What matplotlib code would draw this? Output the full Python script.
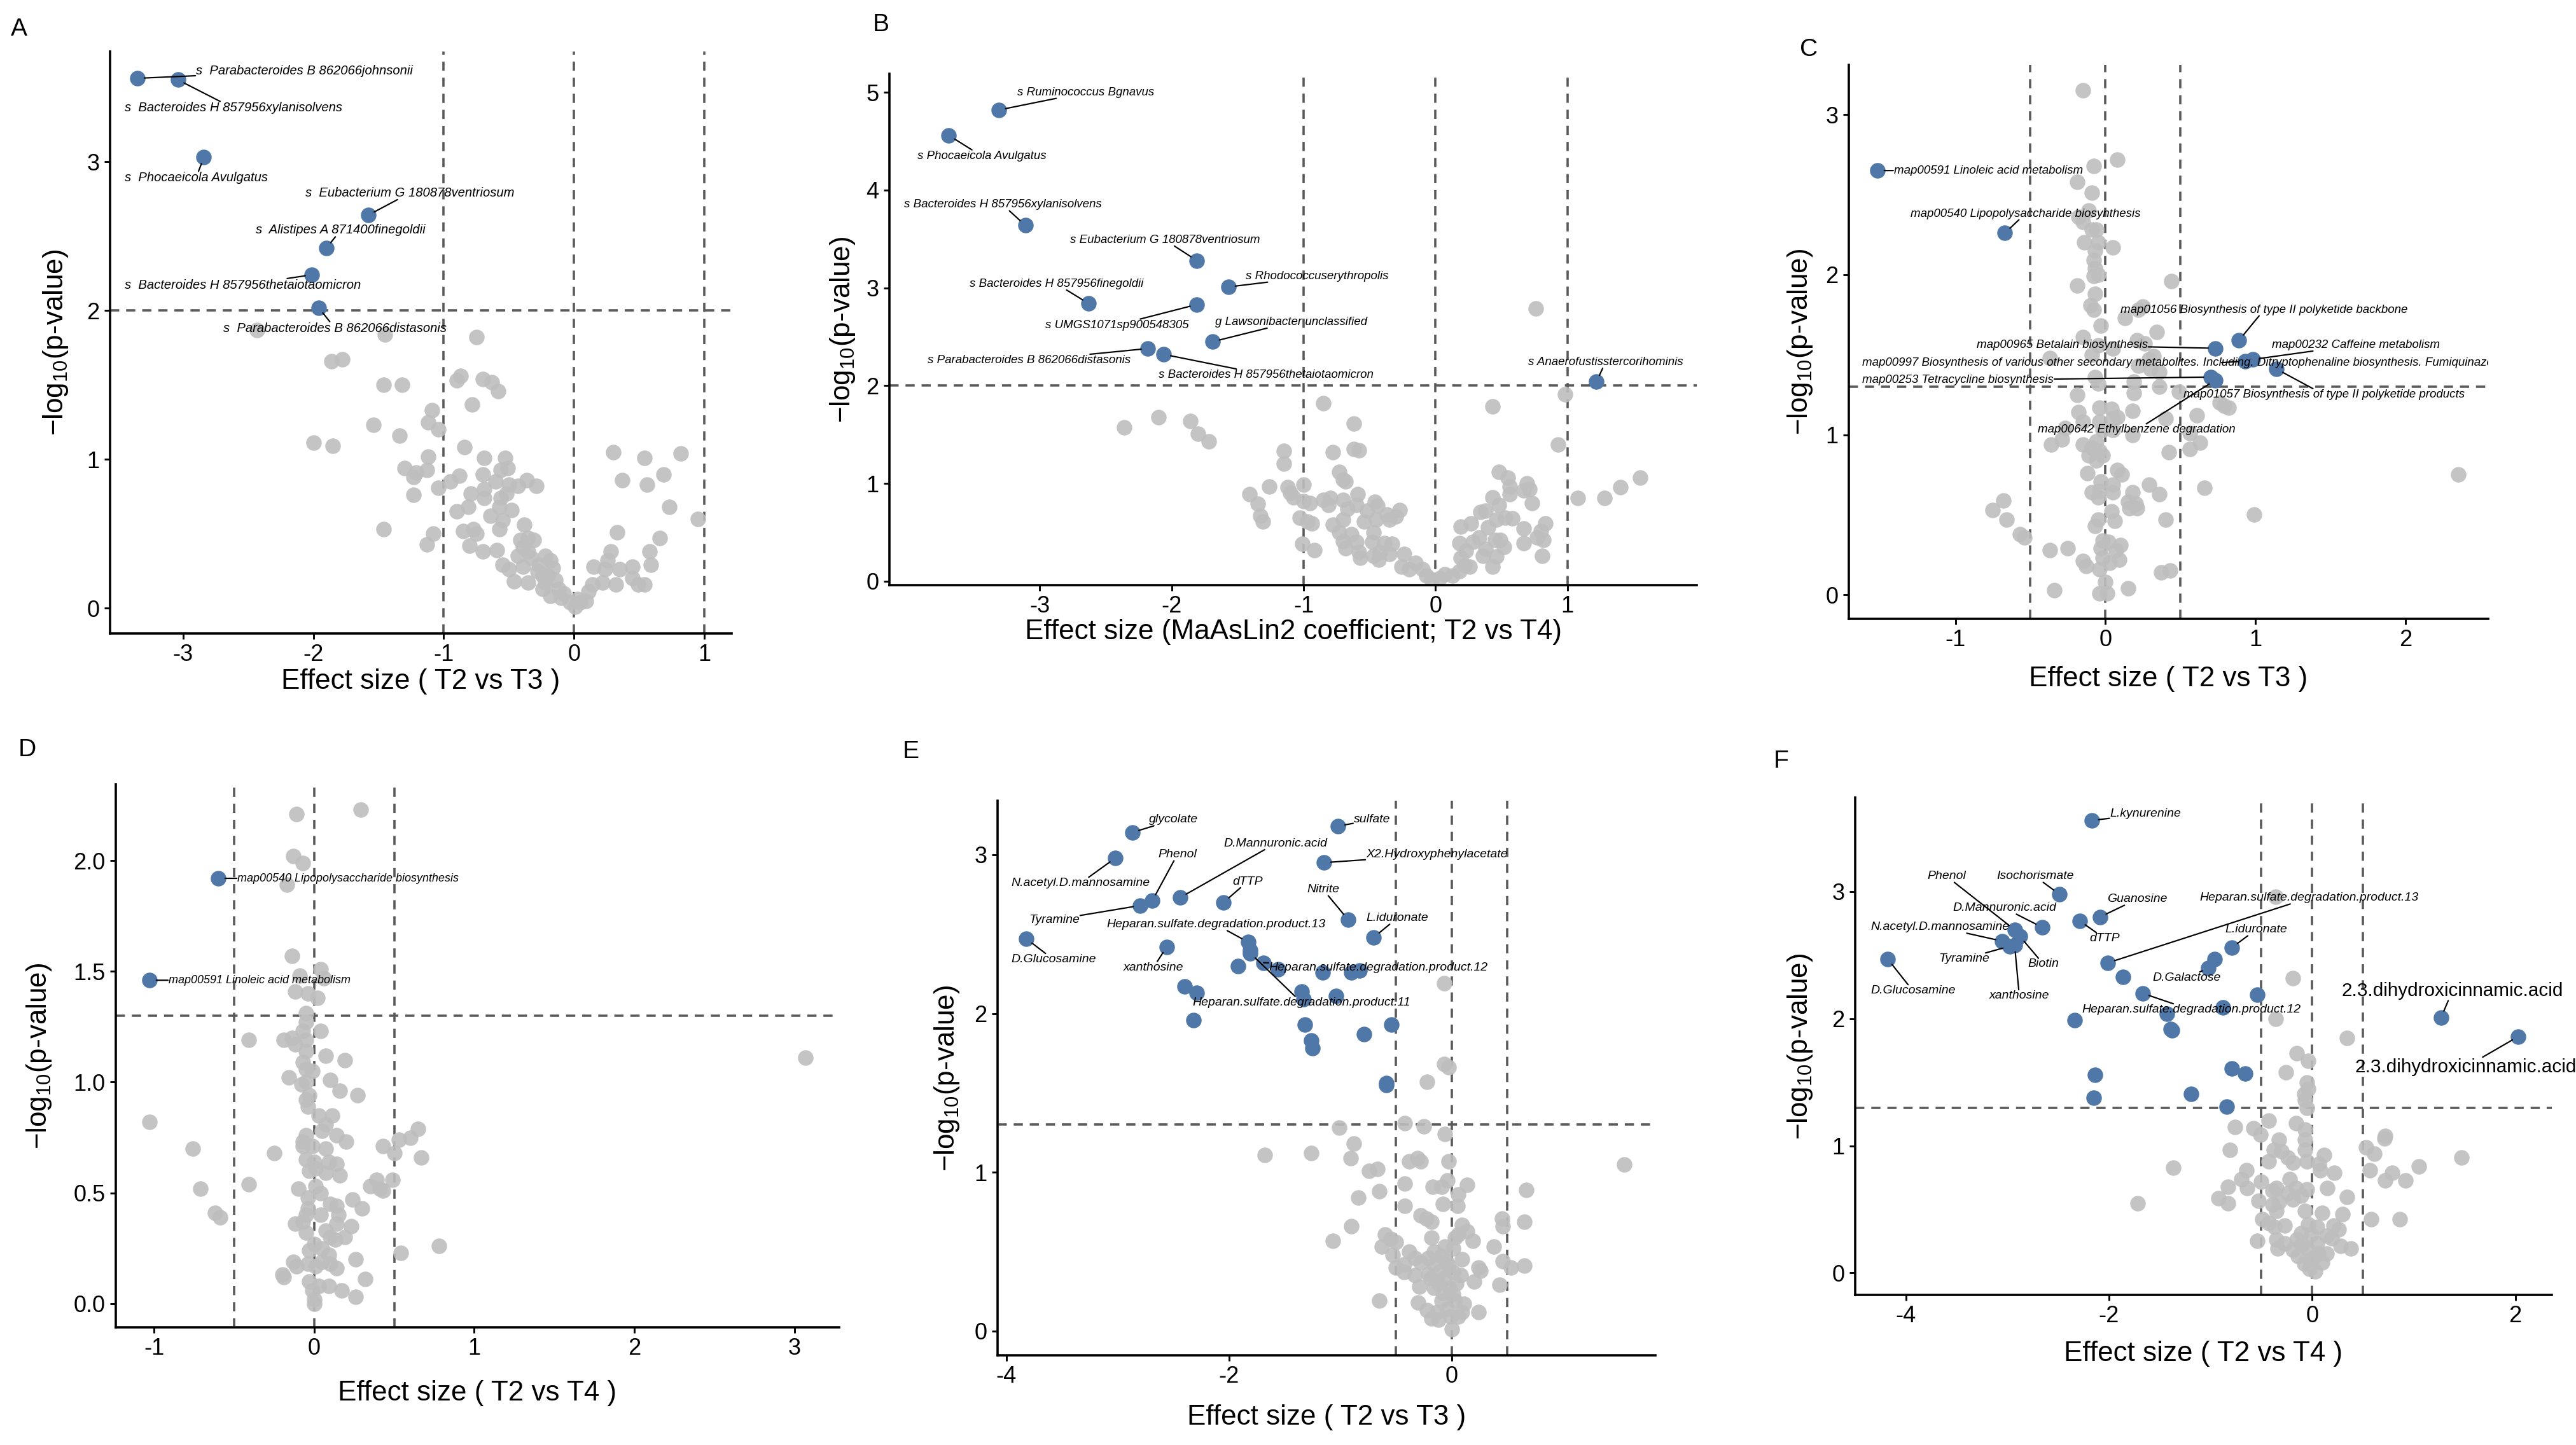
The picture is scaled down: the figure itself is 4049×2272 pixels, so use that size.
import numpy as np
import matplotlib
matplotlib.use("Agg")
import matplotlib.pyplot as plt

plt.rcParams['font.family'] = ['Liberation Sans', 'DejaVu Sans']
plt.rcParams['mathtext.default'] = 'regular'
plt.rcParams['axes.unicode_minus'] = False

GRAY = '#BEBEBE'
BLUE = '#4F78A8'
DASH = '#5A5A5A'

# ---------------- panel A: species, T2 vs T3 ----------------
a_gray = [(-2.43,1.87),(-1.45,1.84),(-0.75,1.82),(-1.86,1.66),(-1.78,1.67),(-1.46,1.50),(-1.32,1.50),(-0.90,1.53),
 (-0.87,1.56),(-0.70,1.54),(-0.63,1.52),(-0.58,1.46),(-0.78,1.37),(-1.09,1.33),(-1.54,1.23),(-1.12,1.25),(-1.34,1.16),
 (-1.04,1.20),(-2.00,1.11),(-1.85,1.09),(-0.84,1.08),(-1.12,1.02),(-0.69,1.01),(-0.53,1.01),(-1.30,0.94),(-1.21,0.91),
 (-1.13,0.93),(-1.23,0.88),(-0.88,0.89),(-0.70,0.90),(-0.95,0.85),(-1.04,0.81),(-0.56,0.93),(-0.51,0.94),(-0.60,0.85),
 (-0.50,0.83),(-0.43,0.82),(-0.36,0.86),(-0.29,0.82),(-0.69,0.80),(-0.79,0.77),(-1.23,0.76),(-0.69,0.74),(-0.56,0.74),
 (-0.52,0.77),(-0.81,0.68),(-0.90,0.65),(-0.57,0.68),(-0.48,0.66),(-0.64,0.62),(-0.55,0.59),(-1.46,0.53),(-1.08,0.50),
 (-1.13,0.43),(-0.85,0.52),(-0.77,0.53),(-0.75,0.50),(-0.80,0.42),(-0.70,0.38),(-0.59,0.39),(-0.57,0.53),(-0.38,0.56),
 (-0.41,0.46),(-0.35,0.47),(-0.31,0.46),(-0.39,0.41),(-0.35,0.38),(-0.43,0.35),(-0.33,0.34),(-0.22,0.35),(-0.18,0.32),
 (-0.55,0.29),(-0.50,0.26),(-0.39,0.28),(-0.27,0.29),(-0.16,0.27),(-0.46,0.18),(-0.35,0.17),(-0.24,0.22),(-0.22,0.17),
 (-0.14,0.19),(-0.24,0.13),(-0.18,0.08),(-0.12,0.13),(-0.10,0.07),(-0.03,0.04),(0.01,0.01),(0.05,0.04),(0.09,0.05),
 (0.11,0.11),(0.14,0.16),(0.15,0.28),(0.22,0.17),(0.24,0.26),(0.26,0.32),(0.28,0.38),(0.32,0.16),(0.35,0.26),(0.33,0.51),
 (0.45,0.28),(0.45,0.20),(0.49,0.16),(0.54,0.16),(0.58,0.38),(0.59,0.29),(0.66,0.47),(0.73,0.68),(0.95,0.60),(0.37,0.86),
 (0.56,0.83),(0.69,0.90),(0.30,1.05),(0.54,1.01),(0.82,1.04),(-0.28,0.25),(-0.20,0.22),(-0.08,0.10),(0.03,0.06)]
a_sig_x = [-3.35, -3.04, -2.84, -1.58, -1.90, -2.01, -1.96]
a_sig_y = [3.56, 3.55, 3.03, 2.64, 2.42, 2.24, 2.02]
a_names = ['s  Parabacteroides B 862066johnsonii', 's  Bacteroides H 857956xylanisolvens', 's  Phocaeicola Avulgatus',
           's  Eubacterium G 180878ventriosum', 's  Alistipes A 871400finegoldii',
           's  Bacteroides H 857956thetaiotaomicron', 's  Parabacteroides B 862066distasonis']
a_lab_pos = [(-2.90,3.61),(-3.45,3.36),(-3.45,2.89),(-2.06,2.79),(-2.44,2.54),(-3.45,2.17),(-2.69,1.88)]

# ---------------- panel B: species, T2 vs T4 ----------------
b_gray = [(-2.36,1.57),(-2.10,1.68),(-1.86,1.64),(-1.80,1.51),(-1.72,1.43),(-0.85,1.82),(-0.62,1.61),(-0.78,1.32),
 (-0.62,1.35),(-0.58,1.34),(-1.15,1.33),(-1.15,1.20),(-0.73,1.12),(-0.70,1.04),(-0.68,1.02),(-1.26,0.97),(-1.12,0.96),
 (-1.00,0.99),(-1.41,0.89),(-1.10,0.90),(-1.08,0.86),(-1.35,0.79),(-1.00,0.82),(-0.95,0.80),(-0.85,0.83),(-0.80,0.85),
 (-0.81,0.78),(-0.70,0.83),(-0.59,0.89),(-0.67,0.74),(-0.60,0.78),(-0.46,0.81),(-0.52,0.72),(-0.44,0.77),(-0.37,0.68),
 (-0.27,0.73),(-0.30,0.66),(-1.33,0.67),(-1.31,0.61),(-1.03,0.65),(-0.97,0.61),(-0.94,0.59),(-0.78,0.58),(-0.70,0.63),
 (-0.73,0.50),(-0.54,0.61),(-0.45,0.63),(-0.35,0.63),(-0.47,0.50),(-0.70,0.41),(-0.64,0.48),(-0.60,0.40),(-0.68,0.34),
 (-0.58,0.30),(-0.48,0.40),(-0.39,0.39),(-0.33,0.38),(-0.42,0.30),(-0.47,0.26),(-0.43,0.22),(-0.35,0.28),(-0.24,0.28),
 (-0.26,0.15),(-0.15,0.19),(-0.20,0.12),(-0.10,0.12),(-0.07,0.06),(-0.03,0.02),(0.03,0.03),(0.07,0.07),(0.13,0.06),
 (0.18,0.10),(0.19,0.24),(0.22,0.16),(0.26,0.15),(0.23,0.31),(0.28,0.40),(0.33,0.45),(0.38,0.33),(0.36,0.26),(0.46,0.25),
 (0.43,0.15),(0.18,0.39),(0.19,0.56),(0.27,0.59),(0.34,0.71),(0.38,0.72),(0.40,0.55),(0.45,0.42),(0.46,0.63),(0.49,0.42),
 (0.52,0.35),(0.53,0.65),(0.58,0.64),(0.43,0.86),(0.48,0.78),(0.48,1.12),(0.55,1.06),(0.56,0.97),(0.56,0.89),(0.67,0.93),
 (0.69,1.00),(0.71,0.94),(0.73,0.80),(0.67,0.54),(0.67,0.39),(0.77,0.45),(0.80,0.51),(0.83,0.59),(0.82,0.42),(0.81,0.26),
 (0.43,1.79),(0.76,2.79),(0.98,1.91),(0.93,1.40),(1.08,0.85),(1.28,0.85),(1.40,0.96),(1.55,1.06),(-1.01,0.38),(-0.92,0.32),
 (-0.57,0.24)]
b_sig_x = [-3.31, -3.69, -3.11, -1.81, -1.57, -2.63, -1.81, -1.69, -2.18, -2.06, 1.22]
b_sig_y = [4.82, 4.56, 3.64, 3.28, 3.01, 2.84, 2.83, 2.45, 2.38, 2.32, 2.04]
b_names = ['s Ruminococcus Bgnavus', 's Phocaeicola Avulgatus', 's Bacteroides H 857956xylanisolvens',
           's Eubacterium G 180878ventriosum', 's Rhodococcuserythropolis', 's Bacteroides H 857956finegoldii',
           's UMGS1071sp900548305', 'g Lawsonibacter unclassified', 's Parabacteroides B 862066distasonis',
           's Bacteroides H 857956thetaiotaomicron', 's Anaerofustisstercorihominis']
b_lab_pos = [(-3.17,5.00),(-3.93,4.35),(-4.03,3.85),(-2.77,3.49),(-1.44,3.12),(-3.53,3.04),(-2.96,2.62),
             (-1.67,2.65),(-3.85,2.26),(-2.10,2.11),(0.70,2.24)]

# ---------------- panel C: pathways, T2 vs T3 ----------------
c_gray = [(-0.15,3.15),(0.08,2.72),(-0.08,2.68),(-0.19,2.58),(-0.09,2.51),(-0.11,2.40),(-0.18,2.36),(-0.15,2.33),
 (-0.09,2.28),(-0.06,2.28),(-0.14,2.20),(-0.05,2.20),(0.05,2.17),(-0.07,2.15),(-0.08,2.09),(-0.07,2.04),(-0.08,1.99),
 (-0.05,2.00),(-0.19,1.93),(0.44,1.96),(-0.07,1.88),(-0.10,1.81),(-0.08,1.78),(0.25,1.80),(0.22,1.78),(0.13,1.73),
 (-0.03,1.68),(0.34,1.64),(-0.15,1.61),(0.21,1.59),(0.26,1.57),(-0.05,1.56),(0.05,1.54),(-0.37,1.48),(-0.09,1.50),
 (0.32,1.49),(0.29,1.47),(0.22,1.43),(0.30,1.41),(0.36,1.39),(-0.07,1.36),(0.19,1.33),(-0.05,1.32),(0.36,1.30),
 (0.49,1.27),(0.19,1.26),(-0.19,1.25),(0.76,1.20),(0.79,1.18),(0.82,1.17),(-0.04,1.17),(0.04,1.16),(0.18,1.15),
 (-0.18,1.14),(0.61,1.12),(0.40,1.10),(0.08,1.11),(0.05,1.10),(-0.04,1.08),(-0.15,1.08),(-0.27,1.04),(-0.02,1.03),
 (0.05,1.03),(0.18,1.00),(0.56,1.01),(-0.29,0.97),(-0.36,0.94),(-0.15,0.94),(-0.06,0.96),(0.63,0.95),(-0.09,0.92),
 (-0.04,0.90),(0.56,0.91),(0.42,0.89),(-0.11,0.87),(-0.06,0.84),(-0.02,0.87),(0.08,0.78),(0.11,0.75),(-0.12,0.76),
 (-0.03,0.71),(0.05,0.69),(0.29,0.69),(0.66,0.67),(-0.09,0.64),(-0.04,0.65),(0.05,0.64),(0.18,0.64),(0.36,0.63),
 (-0.05,0.61),(0.15,0.58),(0.20,0.57),(0.16,0.54),(0.21,0.54),(-0.68,0.59),(-0.75,0.53),(-0.66,0.47),(0.99,0.50),
 (2.35,0.75),(0.40,0.47),(0.04,0.52),(-0.05,0.47),(0.06,0.46),(-0.07,0.43),(-0.57,0.38),(-0.54,0.36),(-0.02,0.34),
 (0.02,0.33),(-0.37,0.28),(-0.25,0.29),(-0.03,0.29),(0.10,0.31),(0.07,0.28),(-0.02,0.23),(0.09,0.22),(-0.15,0.21),
 (-0.13,0.18),(0.03,0.20),(-0.04,0.16),(0.37,0.14),(0.43,0.15),(0.00,0.08),(-0.34,0.03),(0.15,0.04),(-0.04,0.01),
 (0.01,0.01)]
c_sig_x = [-1.52, -0.67, 0.89, 0.73, 0.98, 0.70, 1.14, 0.73, 0.93]
c_sig_y = [2.65, 2.26, 1.59, 1.54, 1.47, 1.36, 1.41, 1.34, 1.46]
c_names = ['map00591 Linoleic acid metabolism', 'map00540 Lipopolysaccharide biosynthesis',
           'map01056 Biosynthesis of type II polyketide backbone', 'map00965 Betalain biosynthesis',
           'map00232 Caffeine metabolism', 'map00253 Tetracycline biosynthesis',
           'map01057 Biosynthesis of type II polyketide products', 'map00642 Ethylbenzene degradation',
           'map00997 Biosynthesis of various other secondary metabolites. Including. Ditryptophenaline biosynthesis. Fumiquinazoline biosynthesis']
c_lab_pos = [(-1.41,2.65),(-1.30,2.38),(0.10,1.78),(-0.86,1.56),(1.11,1.56),(-1.62,1.34),(0.52,1.25),(-0.45,1.03),(-1.62,1.45)]

# ---------------- panel D: pathways, T2 vs T4 ----------------
d_gray = [(0.29,2.23),(-0.11,2.21),(-0.13,2.02),(-0.07,1.99),(-0.17,1.89),(-0.14,1.57),(0.04,1.51),(-0.09,1.48),
 (0.06,1.47),(-0.12,1.41),(-0.04,1.40),(0.02,1.38),(-0.05,1.31),(-0.05,1.27),(0.04,1.23),(-0.07,1.23),(-0.41,1.19),
 (-0.19,1.19),(-0.14,1.20),(-0.12,1.17),(-0.05,1.19),(-0.05,1.14),(0.07,1.12),(0.19,1.10),(-0.07,1.09),(-0.05,1.06),
 (-0.01,1.05),(-0.16,1.02),(0.10,1.01),(-0.08,0.99),(-0.05,1.00),(0.16,0.96),(0.27,0.94),(-1.03,0.82),(-0.05,0.92),
 (-0.03,0.94),(-0.04,0.89),(0.03,0.85),(0.11,0.85),(0.07,0.81),(0.05,0.78),(0.14,0.76),(0.65,0.79),(0.60,0.75),
 (0.53,0.74),(-0.05,0.76),(-0.07,0.73),(0.20,0.73),(-0.76,0.70),(-0.25,0.68),(-0.07,0.71),(-0.01,0.71),(0.07,0.70),
 (0.43,0.71),(0.50,0.68),(0.67,0.66),(-0.05,0.65),(0.00,0.64),(0.09,0.64),(0.14,0.63),(0.01,0.61),(0.07,0.59),
 (-0.03,0.60),(0.16,0.58),(0.39,0.56),(0.49,0.56),(-0.41,0.54),(0.35,0.53),(0.41,0.52),(0.43,0.51),(-0.71,0.52),
 (-0.10,0.52),(0.01,0.53),(0.04,0.50),(-0.04,0.48),(0.10,0.45),(0.14,0.44),(0.24,0.47),(0.30,0.43),(-0.04,0.43),
 (-0.62,0.41),(-0.59,0.39),(-0.05,0.40),(0.04,0.40),(0.15,0.40),(-0.12,0.36),(-0.07,0.37),(0.14,0.36),(0.23,0.35),
 (0.07,0.33),(-0.05,0.32),(0.10,0.30),(0.19,0.30),(0.13,0.29),(0.00,0.27),(0.05,0.25),(-0.03,0.24),(0.09,0.22),
 (0.54,0.23),(0.78,0.26),(0.26,0.20),(-0.13,0.19),(-0.04,0.18),(0.05,0.19),(0.10,0.18),(-0.11,0.17),(0.01,0.17),
 (0.14,0.16),(-0.20,0.13),(-0.19,0.12),(0.32,0.11),(-0.03,0.10),(0.03,0.08),(0.09,0.08),(-0.01,0.06),(0.17,0.06),
 (0.26,0.03),(0.00,0.02),(0.00,0.00),(3.07,1.11)]
d_sig_x = [-0.60, -1.03]
d_sig_y = [1.92, 1.46]
d_names = ['map00540 Lipopolysaccharide biosynthesis', 'map00591 Linoleic acid metabolism']
d_lab_pos = [(-0.48,1.92),(-0.91,1.46)]

# ---------------- panel E: metabolites, T2 vs T3 ----------------
e_gray = [(-0.07,2.19),(-0.07,1.68),(-0.03,1.66),(-0.22,1.57),(-1.01,1.28),(-0.42,1.31),(-0.25,1.29),(-0.06,1.24),
 (-0.88,1.18),(-1.68,1.11),(-1.26,1.12),(-0.91,1.09),(-0.38,1.07),(-0.31,1.09),(-0.28,1.07),(-0.03,1.07),(1.55,1.05),
 (-0.74,1.01),(-0.67,1.02),(-0.42,0.93),(-0.17,0.91),(-0.09,0.91),(-0.04,0.95),(0.14,0.92),(0.67,0.89),(-0.65,0.88),
 (-0.84,0.84),(0.06,0.86),(-0.42,0.79),(-0.08,0.80),(0.05,0.79),(-0.28,0.73),(-0.23,0.71),(-0.18,0.69),(0.45,0.71),
 (0.46,0.66),(0.65,0.69),(0.09,0.67),(0.14,0.63),(-0.90,0.66),(-0.60,0.61),(-0.18,0.59),(0.03,0.59),(0.06,0.61),
 (0.19,0.57),(-1.07,0.57),(-0.55,0.58),(-0.50,0.56),(-0.63,0.53),(0.38,0.53),(-0.38,0.50),(-0.16,0.50),(-0.06,0.53),
 (0.01,0.52),(-0.53,0.48),(-0.33,0.46),(-0.21,0.46),(-0.09,0.47),(0.09,0.45),(0.46,0.44),(-0.28,0.43),(-0.50,0.40),
 (-0.43,0.42),(-0.16,0.42),(-0.03,0.41),(0.24,0.40),(0.26,0.38),(0.53,0.40),(0.65,0.41),(-0.43,0.37),(-0.21,0.36),
 (-0.11,0.37),(0.01,0.37),(-0.33,0.35),(-0.19,0.33),(-0.07,0.33),(0.04,0.30),(0.20,0.31),(0.43,0.29),(-0.29,0.28),
 (-0.16,0.27),(-0.02,0.27),(-0.08,0.24),(0.01,0.23),(-0.65,0.19),(-0.30,0.18),(-0.09,0.19),(0.03,0.19),(0.11,0.17),
 (-0.22,0.13),(-0.13,0.12),(-0.04,0.14),(0.09,0.12),(0.24,0.12),(-0.18,0.08),(-0.12,0.07),(-0.01,0.09),(0.06,0.09),
 (0.00,0.01),(-0.12,0.30),(-0.05,0.44),(0.08,0.35)]
e_sig_x = [-2.87, -1.02, -3.02, -2.44, -2.69, -1.15, -2.05, -0.93, -2.80, -1.83, -0.70, -3.82, -2.56, -1.69, -1.81,
           -1.92, -1.56, -1.16, -0.90, -0.83, -2.40, -2.29, -1.35, -1.33, -1.04, -2.32, -1.32, -0.54, -0.79, -1.26,
           -1.25, -0.59, -0.59, -1.81]
e_sig_y = [3.14, 3.18, 2.98, 2.73, 2.71, 2.95, 2.70, 2.59, 2.68, 2.45, 2.48, 2.47, 2.42, 2.32, 2.38,
           2.30, 2.28, 2.26, 2.26, 2.27, 2.17, 2.13, 2.14, 2.09, 2.11, 1.96, 1.93, 1.93, 1.87, 1.83,
           1.78, 1.56, 1.55, 2.40]
e_names = ['glycolate', 'sulfate', 'N.acetyl.D.mannosamine', 'D.Mannuronic.acid', 'Phenol', 'X2.Hydroxyphenylacetate',
           'dTTP', 'Nitrite', 'Tyramine', 'Heparan.sulfate.degradation.product.13', 'L.iduronate', 'D.Glucosamine',
           'xanthosine', 'Heparan.sulfate.degradation.product.12', 'Heparan.sulfate.degradation.product.11']
e_lab_pos = [(-2.72,3.22),(-0.88,3.22),(-3.96,2.82),(-2.05,3.07),(-2.64,3.00),(-0.77,3.00),(-1.97,2.83),(-1.30,2.78),
             (-3.80,2.59),(-3.10,2.56),(-0.77,2.60),(-3.96,2.34),(-2.95,2.29),(-1.64,2.29),(-2.33,2.07)]

# ---------------- panel F: metabolites, T2 vs T4 ----------------
f_gray = [(-0.36,2.96),(-0.19,2.32),(-0.36,2.00),(0.34,1.85),(-0.15,1.73),(-0.04,1.67),(-0.26,1.58),(-0.05,1.50),
 (-0.04,1.45),(-0.08,1.41),(-0.07,1.36),(-0.05,1.30),(-0.43,1.20),(-0.16,1.18),(-0.76,1.15),(-0.58,1.14),(-0.51,1.09),
 (-0.07,1.13),(0.72,1.08),(0.71,1.06),(-0.33,1.05),(-0.07,1.05),(0.53,0.99),(0.61,0.94),(1.47,0.91),(-0.81,0.97),
 (-0.38,0.97),(-0.30,0.96),(-0.07,0.97),(-0.24,0.91),(0.12,0.93),(-0.43,0.88),(-0.19,0.87),(-0.05,0.88),(0.07,0.86),
 (-1.37,0.83),(1.05,0.84),(0.08,0.81),(-0.65,0.81),(0.22,0.79),(0.57,0.81),(0.79,0.79),(-0.70,0.74),(-0.22,0.74),
 (0.72,0.73),(0.92,0.73),(-0.50,0.72),(-0.83,0.68),(-0.64,0.67),(-0.39,0.65),(-0.16,0.67),(-0.05,0.66),(0.15,0.67),
 (-0.35,0.67),(-0.24,0.63),(-0.11,0.61),(-0.19,0.58),(-0.33,0.56),(-0.53,0.57),(0.34,0.60),(-0.92,0.59),(-0.83,0.55),
 (-1.72,0.55),(-0.39,0.54),(-0.35,0.49),(-0.07,0.49),(0.10,0.47),(0.30,0.46),(0.58,0.42),(0.86,0.42),(-0.49,0.42),
 (-0.43,0.39),(-0.27,0.37),(-0.37,0.36),(-0.04,0.38),(0.05,0.36),(0.21,0.37),(0.26,0.34),(-0.11,0.31),(-0.01,0.30),
 (0.14,0.29),(0.19,0.27),(-0.54,0.25),(-0.35,0.26),(-0.15,0.26),(-0.27,0.23),(0.05,0.23),(0.28,0.21),(0.38,0.19),
 (-0.34,0.19),(-0.19,0.18),(-0.05,0.19),(0.14,0.15),(-0.14,0.13),(0.02,0.12),(0.10,0.08),(-0.08,0.07),(-0.03,0.03),
 (0.03,0.01),(-0.10,0.22),(0.06,0.15),(-0.02,0.10)]
f_sig_x = [-2.17, -2.49, -2.93, -2.09, -2.66, -2.29, -2.01, -3.05, -0.79, -2.88, -2.98, -1.02, -4.18, -2.93, -1.67,
           1.27, 2.03, -0.96, -1.86, -0.54, -0.88, -1.43, -1.39, -1.38, -2.34, -2.14, -2.15, -0.79, -0.66, -1.19, -0.84]
f_sig_y = [3.56, 2.98, 2.70, 2.80, 2.72, 2.77, 2.44, 2.61, 2.56, 2.65, 2.57, 2.40, 2.47, 2.58, 2.20,
           2.01, 1.86, 2.47, 2.33, 2.19, 2.09, 2.04, 1.92, 1.91, 1.99, 1.56, 1.38, 1.61, 1.57, 1.41, 1.31]
f_names = ['L.kynurenine', 'Isochorismate', 'Phenol', 'Guanosine', 'D.Mannuronic.acid', 'dTTP',
           'Heparan.sulfate.degradation.product.13', 'N.acetyl.D.mannosamine', 'L.iduronate', 'Biotin', 'Tyramine',
           'D.Galactose', 'D.Glucosamine', 'xanthosine', 'Heparan.sulfate.degradation.product.12',
           '2.3.dihydroxicinnamic.acid', '2.3.dihydroxicinnamic.acid']
f_lab_pos = [(-1.99,3.61),(-3.11,3.12),(-3.79,3.12),(-2.02,2.94),(-3.54,2.87),(-2.19,2.63),(-1.11,2.95),(-4.35,2.72),
             (-0.86,2.70),(-2.80,2.43),(-3.68,2.47),(-1.57,2.32),(-4.35,2.22),(-3.18,2.18),(-2.27,2.07),
             (0.29,2.22),(0.42,1.62)]

W, H = 4049, 2272
fig = plt.figure(figsize=(W / 260, H / 260), dpi=260)


def panel(box, gray, sx, sy, names, lab_pos, vlines, hline, xlim, ylim, xticks, yticks, xlabel, letter, letter_xy,
          xlab_off, ylab_off, fs=5.6, big=(), clip=()):
    l, r, t, b = box
    ax = fig.add_axes([l / W, 1 - b / H, (r - l) / W, (b - t) / H])
    gx = [p[0] for p in gray]
    gy = [p[1] for p in gray]
    ax.scatter(gx, gy, s=46, color=GRAY, alpha=0.9, linewidths=0, zorder=2)
    ax.scatter(sx, sy, s=46, color=BLUE, linewidths=0, zorder=3)
    for v in vlines:
        ax.axvline(v, color=DASH, lw=1.0, ls=(0, (4, 3)), zorder=1)
    ax.axhline(hline, color=DASH, lw=1.0, ls=(0, (4, 3)), zorder=1)
    for i, (name, (tx, ty)) in enumerate(zip(names, lab_pos)):
        isbig = i in big
        ax.annotate(name, xy=(sx[i], sy[i]), xytext=(tx, ty), ha='left', va='center',
                    fontsize=8.2 if isbig else fs, style='normal' if isbig else 'italic',
                    bbox=dict(boxstyle='square,pad=0.05', fc='none', ec='none'),
                    arrowprops=dict(arrowstyle='-', lw=0.6, color='black', shrinkA=0, shrinkB=3),
                    annotation_clip=False, clip_on=(i in clip), zorder=4)
    ax.set_xlim(xlim)
    ax.set_ylim(ylim)
    ax.set_xticks(xticks)
    ax.set_yticks(yticks)
    if isinstance(yticks[1], float) and yticks[1] % 1:
        ax.set_yticklabels(['%.1f' % v for v in yticks])
    for s in ['top', 'right']:
        ax.spines[s].set_visible(False)
    for s in ['left', 'bottom']:
        ax.spines[s].set_linewidth(1.0)
    ax.tick_params(labelsize=10, width=0.8, length=2.5, pad=2)
    ax.set_xlabel(xlabel, fontsize=12.2)
    ax.xaxis.set_label_coords(0.5, xlab_off)
    ax.xaxis.label.set_va('center')
    ax.set_ylabel('\u2212log$_{10}$(p-value)', fontsize=12.2)
    ax.yaxis.set_label_coords(ylab_off, 0.5)
    ax.yaxis.label.set_va('center')
    fig.text(letter_xy[0] / W, 1 - letter_xy[1] / H, letter, fontsize=10.8, ha='center', va='center')
    return ax


panel((173, 1150, 81, 996), a_gray, a_sig_x, a_sig_y, a_names, a_lab_pos, [-1, 0, 1], 2,
      (-3.56, 1.21), (-0.17, 3.74), [-3, -2, -1, 0, 1], [0, 1, 2, 3], 'Effect size ( T2 vs T3 )',
      'A', (30, 46), -0.083, -0.088)
panel((1398, 2667, 116, 920), b_gray, b_sig_x, b_sig_y, b_names, b_lab_pos, [-1, 0, 1], 2,
      (-4.14, 1.98), (-0.04, 5.19), [-3, -2, -1, 0, 1], [0, 1, 2, 3, 4, 5],
      'Effect size (MaAsLin2 coefficient; T2 vs T4)', 'B', (1385, 39), -0.092, -0.058, fs=5.2)
panel((2906, 3911, 102, 973), c_gray, c_sig_x, c_sig_y, c_names, c_lab_pos, [-0.5, 0, 0.5], 1.3,
      (-1.71, 2.55), (-0.15, 3.31), [-1, 0, 1, 2], [0, 1, 2, 3], 'Effect size ( T2 vs T3 )',
      'C', (2843, 78), -0.109, -0.076, fs=5.2, clip=(8,))
panel((182, 1319, 1233, 2087), d_gray, d_sig_x, d_sig_y, d_names, d_lab_pos, [-0.5, 0, 0.5], 1.3,
      (-1.24, 3.28), (-0.107, 2.345), [-1, 0, 1, 2, 3], [0.0, 0.5, 1.0, 1.5, 2.0], 'Effect size ( T2 vs T4 )',
      'D', (43, 1179), -0.121, -0.106, fs=5.0)
panel((1568, 2602, 1259, 2131), e_gray, e_sig_x, e_sig_y, e_names, e_lab_pos, [-0.5, 0, 0.5], 1.3,
      (-4.08, 1.83), (-0.153, 3.34), [-4, -2, 0], [0, 1, 2, 3], 'Effect size ( T2 vs T3 )',
      'E', (1432, 1182), -0.112, -0.077, fs=5.4)
panel((2916, 4011, 1254, 2036), f_gray, f_sig_x, f_sig_y, f_names, f_lab_pos, [-0.5, 0, 0.5], 1.3,
      (-4.5, 2.36), (-0.173, 3.74), [-4, -2, 0, 2], [0, 1, 2, 3], 'Effect size ( T2 vs T4 )',
      'F', (2800, 1197), -0.118, -0.079, fs=5.4, big=(15, 16))

fig.savefig('out.png', dpi=260)
